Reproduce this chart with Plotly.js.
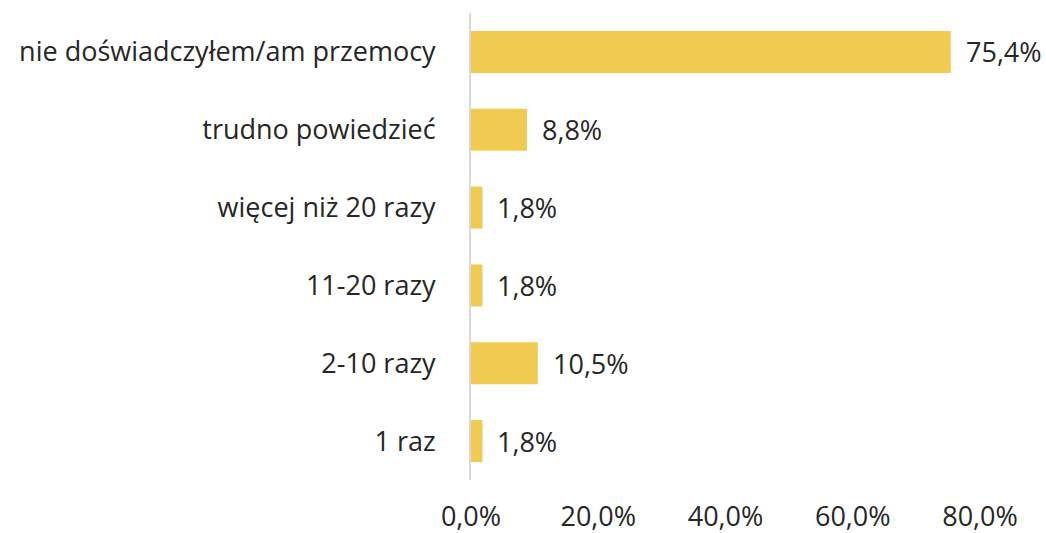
<!DOCTYPE html>
<html>
<head>
<meta charset="utf-8">
<script src="https://cdn.plot.ly/plotly-3.0.1.min.js"></script>
<style>html,body{margin:0;padding:0;background:#fff;}#chart{width:1046px;height:533px;}</style>
</head>
<body>
<div id="chart"></div>
<script>
const categories = ["nie doświadczyłem/am przemocy", "trudno powiedzieć", "więcej niż 20 razy", "11-20 razy", "2-10 razy", "1 raz"];
const values = [75.4, 8.8, 1.8, 1.8, 10.5, 1.8];
const tickValues = [0, 20, 40, 60, 80];
const tickLabels = ["0,0%", "20,0%", "40,0%", "60,0%", "80,0%"];

const font = {family: "Open Sans, sans-serif", size: 27, color: "#262626"};

const trace = {
  type: "bar",
  orientation: "h",
  y: categories,
  x: values,
  marker: {color: "#F1CB4F"},
  hoverinfo: "none"
};

const annotations = categories.map((c, i) => ({
  x: values[i], y: c, xref: "x", yref: "y",
  text: values[i].toFixed(1).replace(".", ",") + "%",
  showarrow: false, xanchor: "left", xshift: 13,
  font: font
}));

const layout = {
  width: 1046, height: 533,
  margin: {l: 471, r: 66, t: 13, b: 53},
  paper_bgcolor: "#fff", plot_bgcolor: "#fff",
  font: font,
  bargap: 0.46,
  showlegend: false,
  xaxis: {
    range: [0, 80], tickvals: tickValues, ticktext: tickLabels,
    showgrid: false, zeroline: false, showline: false, ticks: "",
    ticklabelstandoff: 18, tickfont: font, fixedrange: true
  },
  yaxis: {
    autorange: "reversed", showgrid: false, zeroline: false,
    showline: true, linecolor: "#D9D9D9", linewidth: 2, ticks: "",
    ticklabelstandoff: 28, tickfont: font, fixedrange: true
  },
  annotations: annotations
};

Plotly.newPlot("chart", [trace], layout, {staticPlot: true});
</script>
</body>
</html>
